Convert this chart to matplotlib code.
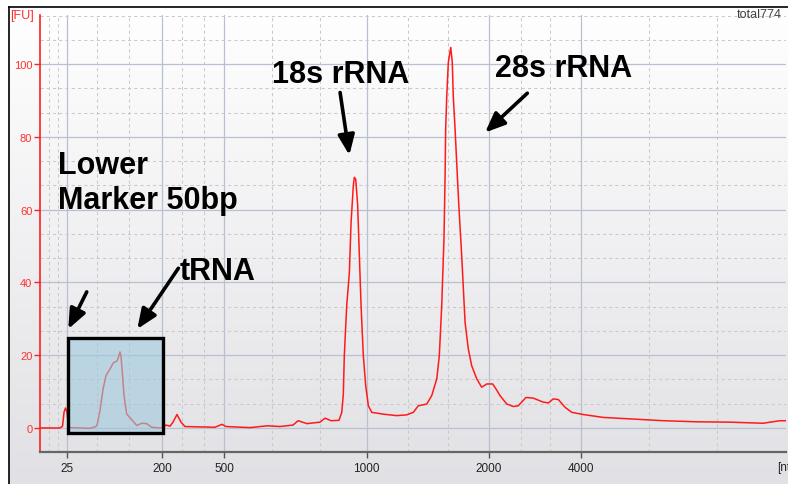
import numpy as np
import matplotlib
matplotlib.use("Agg")
import matplotlib.pyplot as plt
from matplotlib.patches import Rectangle
from matplotlib.lines import Line2D
from matplotlib.colors import LinearSegmentedColormap, to_rgba

# ---------------- data ----------------
# migration time [s] and fluorescence [FU] of the electropherogram
time_s = [17.00, 18.42, 18.60, 18.71, 18.81, 18.92, 19.01, 19.13, 19.84, 20.55,
          20.91, 21.05, 21.26, 21.48, 21.69, 21.97, 22.21, 22.47, 22.58, 22.68,
          22.75, 22.83, 22.97, 23.16, 23.47, 23.87, 24.23, 24.58, 24.94, 25.53,
          25.76, 25.95, 26.24, 26.45, 26.73, 27.02, 27.30, 28.37, 29.43, 29.93,
          30.22, 31.92, 33.13, 34.05, 34.98, 35.33, 35.97, 36.89, 37.25, 37.68,
          38.24, 38.44, 38.55, 38.62, 38.79, 38.98, 39.10, 39.26, 39.33, 39.43,
          39.57, 39.69, 39.81, 39.97, 40.14, 40.33, 40.57, 41.39, 42.34, 43.05,
          43.52, 43.88, 44.48, 44.83, 45.19, 45.37, 45.54, 45.70, 45.78, 45.82,
          45.90, 46.01, 46.18, 46.29, 46.36, 46.49, 46.65, 46.77, 46.96, 47.20,
          47.43, 47.67, 48.03, 48.38, 48.74, 49.16, 49.45, 49.68, 50.16, 50.63,
          50.98, 51.53, 52.05, 52.76, 53.12, 53.47, 53.83, 54.30, 54.78, 55.60,
          57.02, 58.92, 61.29, 63.66, 66.02, 68.39, 68.87, 69.58, 70.00]
fu = [0.0, 0.0, 0.5, 4.4, 5.5, 4.4, 0.7, 0.1, 0.0, -0.1,
      0.3, 0.7, 4.7, 10.7, 14.4, 16.2, 17.9, 18.4, 19.5, 20.9,
      19.9, 16.2, 8.9, 3.8, 2.5, 0.7, 1.3, 1.2, 0.2, 0.0,
      0.2, 0.8, 0.5, 1.6, 3.7, 1.6, 0.4, 0.3, 0.2, 1.0,
      0.4, 0.1, 0.6, 0.4, 0.8, 2.0, 1.2, 1.6, 2.7, 2.0,
      2.1, 4.3, 9.3, 19.9, 33.6, 42.8, 56.5, 66.6, 68.9, 68.4,
      61.1, 47.3, 33.6, 19.9, 11.6, 6.1, 4.3, 3.8, 3.4, 3.6,
      4.3, 6.1, 6.6, 8.9, 13.5, 19.9, 33.6, 51.9, 69.3, 82.1,
      91.3, 100.5, 104.6, 100.5, 91.3, 82.1, 69.3, 60.2, 47.3, 29.0,
      21.7, 17.1, 13.5, 11.2, 12.1, 12.1, 10.4, 8.9, 6.6, 5.9,
      6.1, 8.4, 8.2, 7.1, 6.9, 8.0, 7.8, 5.7, 4.3, 3.7,
      2.9, 2.5, 2.0, 1.7, 1.6, 1.3, 1.6, 2.0, 2.0]

# ladder sizes [nt] and their migration times
size_labels = ["25", "200", "500", "1000", "2000", "4000"]
size_times = [18.90, 25.67, 30.07, 40.20, 48.90, 55.44]
minor_times = [17.64, 18.28, 21.05, 23.32, 27.09, 28.65, 33.48, 36.89,
               43.15, 45.99, 51.18, 53.24, 60.27, 65.10]
fu_ticks = [0, 20, 40, 60, 80, 100]
fu_minor = [6.67, 13.33, 26.67, 33.33, 46.67, 53.33, 66.67, 73.33,
            86.67, 93.33, 106.67, 113.33]

# highlighted small-RNA region (time range, FU range)
box_time = (18.99, 25.74)
box_fu = (-1.4, 24.7)

# annotation labels: text, text anchor (time, FU), arrow tail, arrow tip
labels = ["18s rRNA", "28s rRNA", "Lower\nMarker 50bp", "tRNA"]
label_pos = [(33.48, 95.1), (49.33, 96.6), (18.30, 60.4), (26.95, 40.9)]
arrow_tail = [(38.32, 92.2), (51.62, 92.0), (20.32, 37.4), (26.83, 43.9)]
arrow_tip = [(38.98, 75.0), (48.62, 81.2), (19.01, 27.2), (23.91, 27.2)]

# ---------------- figure ----------------
W, H = 788, 485
fig = plt.figure(figsize=(W / 100, H / 100), dpi=100)
fig.patch.set_facecolor("white")

# background gradient panel
bg = fig.add_axes([9 / W, 0, 1 - 9 / W, 1 - 8 / H], zorder=-5)
cmap = LinearSegmentedColormap.from_list("bg", ["#e1e1e5", "#ffffff"])
bg.imshow(np.linspace(0, 1, 256).reshape(-1, 1), aspect="auto", cmap=cmap,
          origin="lower", extent=[0, 1, 0, 1])
bg.axis("off")
fig.add_artist(Line2D([9 / W, 9 / W], [0, 1 - 8 / H], color="black", lw=1.2,
                      transform=fig.transFigure))
fig.add_artist(Line2D([9 / W, 1], [1 - 8 / H, 1 - 8 / H], color="black", lw=1.2,
                      transform=fig.transFigure))

ax = fig.add_axes([40 / W, 32 / H, 746 / W, 437 / H])
ax.set_facecolor("none")
ax.set_xlim(17, 70)
ax.set_ylim(-6.6, 113.5)

ax.set_xticks(size_times, size_labels)
ax.set_xticks(minor_times, minor=True)
ax.set_yticks(fu_ticks, [str(v) for v in fu_ticks])
ax.set_yticks(fu_minor, minor=True)
ax.grid(which="major", color="#b9c1d1", lw=0.9)
ax.grid(which="minor", color="#c9c9c9", lw=0.75, ls=(0, (3, 3)))
ax.set_axisbelow(True)

ax.tick_params(axis="x", which="major", direction="out", length=4, width=1,
               color="#555555", labelsize=8.5, labelcolor="#222222", pad=3)
ax.tick_params(axis="y", which="major", direction="out", length=4, width=1,
               color="#ff2020", labelsize=8, labelcolor="#ff3030", pad=1.5)
ax.tick_params(which="minor", length=0)
for lab in ax.get_xticklabels() + ax.get_yticklabels():
    lab.set_fontfamily("Liberation Sans")

for s in ["top", "right"]:
    ax.spines[s].set_visible(False)
ax.spines["left"].set_color("#ff2020")
ax.spines["left"].set_linewidth(1.2)
ax.spines["bottom"].set_color("#666666")
ax.spines["bottom"].set_linewidth(1.6)

ax.plot(time_s, fu, color="#ff1a1a", lw=1.1, zorder=2)

ax.add_patch(Rectangle((box_time[0], box_fu[0]), box_time[1] - box_time[0],
                       box_fu[1] - box_fu[0], facecolor=to_rgba("#9ec8dc", 0.6),
                       edgecolor="black", lw=2.4, zorder=3))

for txt, pos in zip(labels, label_pos):
    ax.text(pos[0], pos[1], txt, ha="left", va="baseline", fontsize=22,
            fontweight="bold", fontfamily="Liberation Sans", color="black",
            linespacing=1.24, zorder=5)
for tail, tip in zip(arrow_tail, arrow_tip):
    ax.annotate("", xy=tip, xytext=tail,
                arrowprops=dict(arrowstyle="-|>,head_length=0.6,head_width=0.25",
                                color="black", lw=2.6, shrinkA=0, shrinkB=0,
                                mutation_scale=20), zorder=5)

fig.text(10 / W, 1 - 16 / H, "[FU]", ha="left", va="center", fontsize=9,
         color="#ff3030", fontfamily="Liberation Sans")
fig.text(782 / W, 1 - 15.5 / H, "total774", ha="right", va="center", fontsize=9,
         color="#404040", fontfamily="Liberation Sans")
fig.text(777 / W, 1 - 468 / H, "[nt]", ha="left", va="center", fontsize=8.5,
         color="#222222", fontfamily="Liberation Sans")

fig.savefig("out.png", dpi=100)
